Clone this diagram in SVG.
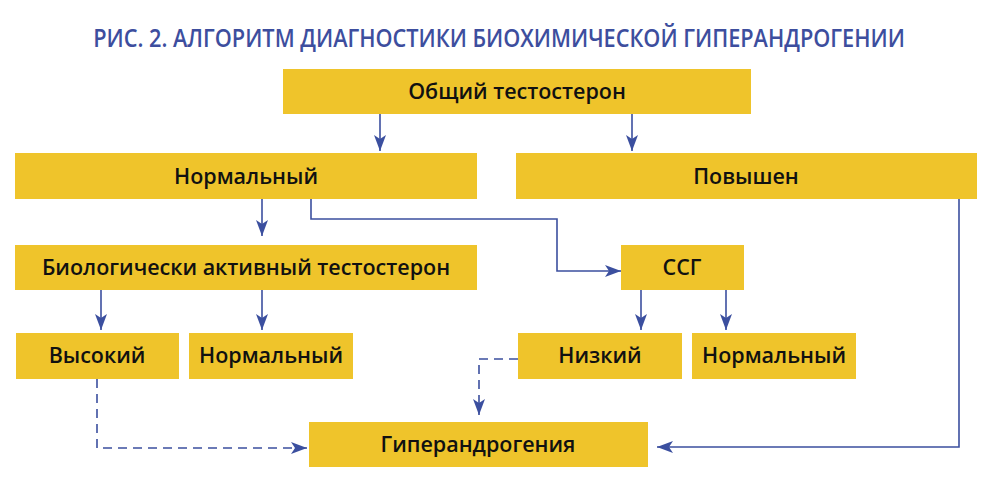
<svg xmlns="http://www.w3.org/2000/svg" width="1000" height="481" viewBox="0 0 1000 481">
<style>
.box{fill:#efc42b}
.lbl{font-family:"Open Sans","Liberation Sans",sans-serif;font-size:21.5px;font-weight:600;fill:#111;text-anchor:middle}
.ln{fill:none;stroke:#3b4f9f;stroke-width:1.6}
.dash{stroke-dasharray:9 6}
.title{font-family:"Open Sans","Liberation Sans",sans-serif;font-size:26px;font-weight:600;fill:#3d4e9e;text-anchor:middle}
</style>
<defs>
<marker id="ah" viewBox="0 0 16 12" refX="16" refY="6" markerWidth="16" markerHeight="12" markerUnits="userSpaceOnUse" orient="auto">
<path d="M0,0 L16,6 L0,12 L4,6 Z" fill="#3b4f9f"/>
</marker>
</defs>
<rect width="1000" height="481" fill="#fff"/>
<text class="title" transform="translate(499 47) scale(0.835 1)" x="0" y="0">РИС. 2. АЛГОРИТМ ДИАГНОСТИКИ БИОХИМИЧЕСКОЙ ГИПЕРАНДРОГЕНИИ</text>
<g id="n-total"><rect class="box" x="283" y="69" width="468" height="45"/><text class="lbl" x="517" y="99">Общий тестостерон</text></g>
<g id="n-normal1"><rect class="box" x="15" y="153" width="462" height="46"/><text class="lbl" x="246" y="184">Нормальный</text></g>
<g id="n-high1"><rect class="box" x="516" y="153" width="461" height="46"/><text class="lbl" x="746" y="184">Повышен</text></g>
<g id="n-bio"><rect class="box" x="15" y="245" width="462" height="45"/><text class="lbl" x="246" y="275">Биологически активный тестостерон</text></g>
<g id="n-ssg"><rect class="box" x="621" y="245" width="123" height="45"/><text class="lbl" x="682" y="275">ССГ</text></g>
<g id="n-high2"><rect class="box" x="16" y="333" width="163" height="46"/><text class="lbl" x="97" y="363">Высокий</text></g>
<g id="n-normal2"><rect class="box" x="189" y="333" width="164" height="46"/><text class="lbl" x="271" y="363">Нормальный</text></g>
<g id="n-low"><rect class="box" x="518" y="333" width="164" height="46"/><text class="lbl" x="600" y="363">Низкий</text></g>
<g id="n-normal3"><rect class="box" x="692" y="333" width="164" height="46"/><text class="lbl" x="774" y="363">Нормальный</text></g>
<g id="n-hyper"><rect class="box" x="309" y="422" width="339" height="45"/><text class="lbl" x="478" y="452">Гиперандрогения</text></g>
<g id="connectors">
<path class="ln" d="M380,114 V151" marker-end="url(#ah)"/>
<path class="ln" d="M632,114 V151" marker-end="url(#ah)"/>
<path class="ln" d="M262,199 V236" marker-end="url(#ah)"/>
<path class="ln" d="M311,199 V219 H557 V271 H621" marker-end="url(#ah)"/>
<path class="ln" d="M101,290 V330" marker-end="url(#ah)"/>
<path class="ln" d="M262,290 V330" marker-end="url(#ah)"/>
<path class="ln" d="M641,290 V330" marker-end="url(#ah)"/>
<path class="ln" d="M726,290 V330" marker-end="url(#ah)"/>
<path class="ln" d="M959,199 V447 H657" marker-end="url(#ah)"/>
<path class="ln dash" d="M97,379 V448 H307" marker-end="url(#ah)"/>
<path class="ln dash" d="M518,359 H479 V415" marker-end="url(#ah)"/>
</g>
</svg>
